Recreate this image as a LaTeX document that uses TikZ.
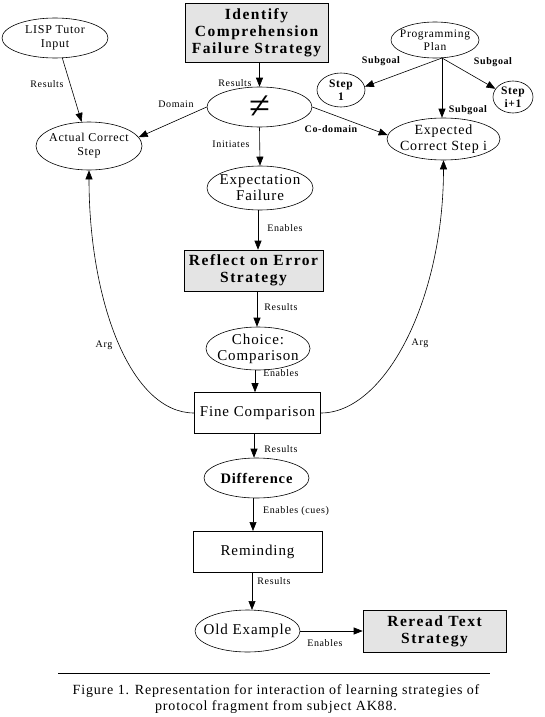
\documentclass[tikz,border=0pt]{standalone}
\usepackage{fontspec}
\setmainfont{Liberation Serif}[LetterSpace=6]
\newfontfamily\boxfont{Liberation Serif}[LetterSpace=10]
\usetikzlibrary{shapes.geometric,arrows.meta}
\definecolor{boxgray}{HTML}{E4E4E4}
\tikzset{
  arr/.style={-{Triangle[length=9pt,width=7pt]},line width=0.6pt},
  ell/.style={ellipse,draw,line width=0.6pt,inner sep=0pt},
  txt/.style={inner sep=0pt,align=center},
  sbox/.style={rectangle,draw,line width=0.6pt,inner sep=0pt,align=center,fill=boxgray,font=\boxfont\fontsize{15.5}{17}\selectfont\bfseries},
  wbox/.style={rectangle,draw,line width=0.6pt,inner sep=0pt,align=center,font=\fontsize{15}{17}\selectfont},
  lbl/.style={inner sep=0pt,font=\fontsize{10}{11}\selectfont},
  blbl/.style={inner sep=0pt,font=\fontsize{10}{11}\selectfont\bfseries},
  smallt/.style={txt,font=\fontsize{12}{14}\selectfont},
  bigt/.style={txt,font=\fontsize{15}{16}\selectfont}
}
\begin{document}
\begin{tikzpicture}[x=1pt,y=-1pt]
\useasboundingbox (0,0) rectangle (545,717);
% boxes
\node[sbox,minimum width=143pt,minimum height=59pt] (id) at (256.5,32.5) {Identify\\Comprehension\\Failure Strategy};
\node[sbox,minimum width=139pt,minimum height=41pt] (ref) at (253.5,270.5) {Reflect on Error\\Strategy};
\node[wbox,minimum width=126pt,minimum height=41pt] (fc) at (257.5,413) {Fine Comparison};
\node[wbox,minimum width=129pt,minimum height=41pt] (rem) at (257.5,551.5) {Reminding};
\node[sbox,minimum width=143pt,minimum height=42pt] (rr) at (434.5,631) {Reread Text\\Strategy};
% ellipses
\node[ell,minimum width=106pt,minimum height=40pt] (lisp) at (55,38) {};
\node[smallt] (lispt) at (lisp) {LISP Tutor\\Input};
\node[ell,minimum width=106pt,minimum height=48pt] (acs) at (89,146) {};
\node[smallt] (acst) at (acs) {Actual Correct\\Step};
\node[ell,minimum width=105pt,minimum height=40pt] (ne) at (259.5,107) {};
\node[txt,font=\fontsize{38}{38}\selectfont] (net) at (ne) {≠};
\node[ell,minimum width=88pt,minimum height=36pt] (pp) at (435,40) {};
\node[txt,font=\fontsize{11.5}{13.5}\selectfont] (ppt) at (pp) {Programming\\Plan};
\node[ell,minimum width=48pt,minimum height=34pt] (s1) at (341,90) {};
\node[txt,font=\fontsize{11.5}{13}\selectfont\bfseries] (s1t) at (s1) {Step\\1};
\node[ell,minimum width=40pt,minimum height=32pt] (si) at (513,97) {};
\node[txt,font=\fontsize{11.5}{13}\selectfont\bfseries] (sit) at (si) {Step\\i+1};
\node[ell,minimum width=113pt,minimum height=42pt] (ecs) at (443.5,139) {};
\node[txt,font=\fontsize{14}{15.5}\selectfont] (ecst) at (ecs) {Expected\\Correct Step i};
\node[ell,minimum width=106pt,minimum height=44pt] (ef) at (260,188) {};
\node[bigt] (eft) at (ef) {Expectation\\Failure};
\node[ell,minimum width=104pt,minimum height=43pt] (ch) at (258,348.5) {};
\node[bigt] (cht) at (ch) {Choice:\\Comparison};
\node[ell,minimum width=105pt,minimum height=40pt] (dif) at (256.5,478) {};
\node[txt,font=\fontsize{14.5}{16}\selectfont\bfseries] (dift) at (dif) {Difference};
\node[ell,minimum width=105pt,minimum height=42pt] (old) at (247.5,631) {};
\node[bigt] (oldt) at (old) {Old Example};
% helper coordinates
\coordinate (ppo) at (442,58);
\coordinate (c1) at (252,572.5);
\coordinate (c2) at (252,610);
\coordinate (c3) at (253,498);
\coordinate (c4) at (253,531);
% connectors
\draw[arr] (lisp.-70) -- (acs.107);
\draw[arr] (ne.north |- id.south) -- (ne.north);
\draw[arr] (ne.west) -- (acs.10);
\draw[arr] (ne.east) -- (ecs.176);
\draw[arr] (ne.south) -- (ef.north);
\draw[arr] (ppo) -- (s1.8);
\draw[arr] (ppo) -- (si.155);
\draw[arr] (ppo) -- (ppo |- ecs.north);
\draw[arr] (ef.south -| 258,0) -- (ref.north -| 258,0);
\draw[arr] (ref.south -| 257,0) -- (ch.north -| 257,0);
\draw[arr] (ch.south -| 255,0) -- (fc.north -| 255,0);
\draw[arr] (fc.south -| 254,0) -- (dif.north -| 254,0);
\draw[arr] (c3) -- (c4);
\draw[arr] (c1) -- (c2);
\draw[arr] (old.east) -- (rr.west);
\draw[arr] (fc.west) .. controls (130,413) and (89,300) .. (acs.south);
\draw[arr] (fc.east) .. controls (385,413) and (ecs.south |- 0,300) .. (ecs.south);
% labels
\node[lbl] (l1) at (47,84) {Results};
\node[lbl] (l2) at (235,83) {Results};
\node[lbl] (l3) at (176,104) {Domain};
\node[lbl] (l4) at (231,144) {Initiates};
\node[blbl] (l5) at (331,129) {Co-domain};
\node[blbl] (l6) at (381,61) {Subgoal};
\node[blbl] (l7) at (493,62) {Subgoal};
\node[blbl] (l8) at (468,110) {Subgoal};
\node[lbl] (l9) at (285,228) {Enables};
\node[lbl] (l10) at (281,307) {Results};
\node[lbl] (l11) at (281,373) {Enables};
\node[lbl] (l12) at (104,345) {Arg};
\node[lbl] (l13) at (420,343) {Arg};
\node[lbl] (l14) at (281,449) {Results};
\node[lbl] (l15) at (296,511) {Enables (cues)};
\node[lbl] (l16) at (274,581) {Results};
\node[lbl] (l17) at (325,643) {Enables};
% caption
\draw[line width=0.8pt] (58,673) coordinate (r1) -- (490,673) coordinate (r2);
\node[align=center,inner sep=0pt,font=\fontsize{14}{16}\selectfont] (cap) at (276,699.5) {Figure 1. Representation for interaction of learning strategies of\\protocol fragment from subject AK88.};
\end{tikzpicture}
\end{document}
